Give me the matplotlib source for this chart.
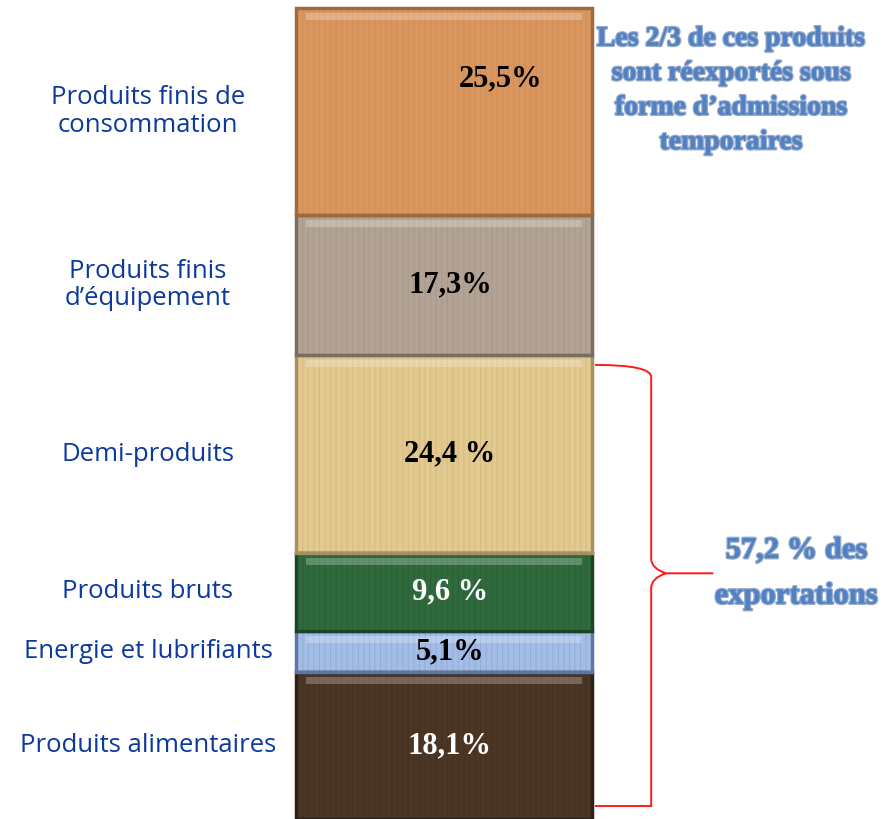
import matplotlib
matplotlib.use("Agg")
import matplotlib.pyplot as plt
import matplotlib.patheffects as pe
from matplotlib.path import Path
from matplotlib.patches import PathPatch

# data, bottom to top
categories = ["Produits alimentaires", "Energie et lubrifiants", "Produits bruts",
              "Demi-produits", "Produits finis\nd\u2019\u00e9quipement",
              "Produits finis de\nconsommation"]
shares = [18.1, 5.1, 9.6, 24.4, 17.3, 25.5]
value_labels = ["18,1%", "5,1%", "9,6 %", "24,4 %", "17,3%", "25,5%"]
colors = ["#4b3625", "#a3bde6", "#2f6a3d", "#e2c98f", "#b3a394", "#d9975f"]
stripe_colors = ["#3d2b1d", "#7f9bcc", "#245532", "#c9ae72", "#9d8d7e", "#c8844c"]
edge_colors = ["#2e2016", "#5a77a8", "#1c4426", "#a89060", "#7a6d62", "#9e6a3e"]
value_colors = ["white", "black", "white", "black", "black", "black"]
brace_share = 57.2
note_top = "Les 2/3 de ces produits\nsont r\u00e9export\u00e9s sous\nforme d\u2019admissions\ntemporaires"
note_brace = "57,2 % des\nexportations"

label_blue = "#0b399c"
note_blue = "#4f81c4"

plt.rcParams["hatch.linewidth"] = 0.8

fig = plt.figure(figsize=(8.85, 8.19), dpi=100)
ax = fig.add_axes([0, 0, 1, 1])
ax.set_xlim(-1.5, 1.49)
ax.set_ylim(0, 101)
ax.axis("off")

bottom = 0
centers = []
for val, col, sc, ec in zip(shares, colors, stripe_colors, edge_colors):
    ax.bar(0, val, width=1.0, bottom=bottom, color=col, linewidth=0, zorder=2)
    # faint vertical texture
    ax.bar(0, val, width=1.0, bottom=bottom, color="none", edgecolor=sc,
           linewidth=0, hatch="|||", alpha=0.45, zorder=2.5)
    # outline
    ax.bar(0, val, width=1.0, bottom=bottom, color="none", edgecolor=ec,
           linewidth=2.5, zorder=3)
    # light bevel along the top of each segment
    ax.bar(0, 0.9, width=0.93, bottom=bottom + val - 1.5, color="white",
           alpha=0.25, linewidth=0, zorder=3)
    centers.append(bottom + val / 2)
    bottom += val

# category labels on the left
for cat, c in zip(categories, centers):
    ax.text(-1.0, c, cat, ha="center", va="center", fontsize=18.5,
            family="Open Sans", color=label_blue, linespacing=1.15)

# value labels inside segments
for i, (lab, c, tc) in enumerate(zip(value_labels, centers, value_colors)):
    x = 0.19 if i == len(shares) - 1 else 0.02
    y = c + 4 if i == len(shares) - 1 else c
    ax.text(x, y, lab, ha="center", va="center", fontsize=22,
            family="Liberation Serif", weight="bold", color=tc, zorder=4)

# red brace spanning the bottom four segments
top = brace_share - 1.2
low = 1.6
mid = (top + low) / 2 + 1.5
xs, xv, xt = 0.51, 0.70, 0.91
verts = [(xs, top), (xv, top), (xv, top - 1.5), (xv, top - 3),
         (xv, mid + 1.8), (xv, mid + 0.6), (xv + 0.05, mid), (xt, mid),
         (xv + 0.05, mid), (xv, mid - 0.6), (xv, mid - 1.8),
         (xv, low + 3), (xv, low + 1.5), (xv, low), (xs, low)]
codes = [Path.MOVETO, Path.CURVE3, Path.CURVE3, Path.LINETO,
         Path.LINETO, Path.CURVE3, Path.CURVE3, Path.LINETO,
         Path.MOVETO, Path.CURVE3, Path.CURVE3,
         Path.LINETO, Path.CURVE3, Path.CURVE3, Path.LINETO]
ax.add_patch(PathPatch(Path(verts, codes), facecolor="none", edgecolor="#ff1a1a",
                       linewidth=1.4, zorder=5, transform=ax.transData))

glow = [pe.withStroke(linewidth=2.0, foreground="#2c5597", alpha=0.5)]
ax.text(0.97, 89.8, note_top, ha="center", va="center", fontsize=20,
        family="Liberation Serif", weight="bold", color=note_blue,
        linespacing=1.5, path_effects=glow)
ax.text(1.19, 30.3, note_brace, ha="center", va="center", fontsize=22,
        family="Liberation Serif", weight="bold", color=note_blue,
        linespacing=1.75, path_effects=glow)

fig.savefig("out.png", dpi=100, facecolor="white")
